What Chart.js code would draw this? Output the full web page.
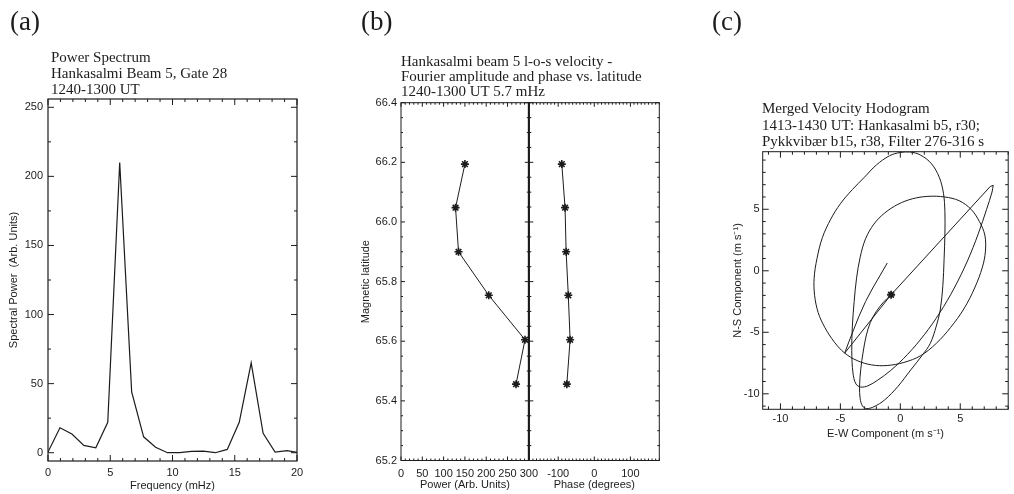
<!DOCTYPE html>
<html>
<head>
<meta charset="utf-8">
<script src="https://cdn.jsdelivr.net/npm/chart.js@4.4.1/dist/chart.umd.min.js"></script>
<style>
  html, body { margin: 0; padding: 0; background: #fff; }
  #page { position: relative; width: 1014px; height: 494px; overflow: hidden; }
  canvas { position: absolute; top: 0; }
  .lbl { position: absolute; font-family: "Liberation Serif", "Times New Roman", serif; color: #1c1c1c; white-space: nowrap; }
  .panel { font-size: 27px; line-height: 27px; }
  .ttl { font-size: 15px; }
</style>
</head>
<body>
<div id="page">
  <canvas id="chartA" width="320" height="494" style="left:0"></canvas>
  <canvas id="chartB1" width="205" height="494" style="left:340px"></canvas>
  <canvas id="chartB2" width="150" height="494" style="left:520px"></canvas>
  <canvas id="chartC" width="334" height="494" style="left:680px"></canvas>

  <div class="lbl panel" style="left:10px;top:8px">(a)</div>
  <div class="lbl panel" style="left:361px;top:8px">(b)</div>
  <div class="lbl panel" style="left:712px;top:8px">(c)</div>

  <div class="lbl ttl" style="left:51px;top:48.5px;line-height:16.3px">Power Spectrum<br>Hankasalmi Beam 5, Gate 28<br>1240-1300 UT</div>
  <div class="lbl ttl" style="left:401px;top:54px;line-height:15px">Hankasalmi beam 5 l-o-s velocity -<br>Fourier amplitude and phase vs. latitude<br>1240-1300 UT 5.7 mHz</div>
  <div class="lbl ttl" style="left:762px;top:100px;line-height:16.5px">Merged Velocity Hodogram<br>1413-1430 UT: Hankasalmi b5, r30;<br>Pykkvibær b15, r38, Filter 276-316 s</div>
</div>
<script>
// ---- (a) power spectrum ----
var freqMHz = [0, 0.96, 1.92, 2.88, 3.84, 4.8, 5.76, 6.72, 7.68, 8.64, 9.6, 10.56,
               11.52, 12.48, 13.44, 14.4, 15.36, 16.32, 17.28, 18.24, 19.2, 20.16];
var spectralPower = [0.5, 18, 13.5, 5.3, 3.6, 22, 210, 44, 11.5, 4, 0, 0,
                     1, 1.2, 0, 2.4, 22, 65, 14, 0.5, 1.5, 0];
var freqTicks = [0, 5, 10, 15, 20];
var powerTicksA = [0, 50, 100, 150, 200, 250];

// ---- (b) amplitude and phase vs latitude ----
var latitude = [66.194, 66.048, 65.90, 65.754, 65.605, 65.456];
var amplitude = [150, 128, 135, 206, 291, 270];
var phaseDeg = [-90, -81, -78, -72, -67, -76];
var latTicks = [65.2, 65.4, 65.6, 65.8, 66.0, 66.2, 66.4];
var ampTicks = [0, 50, 100, 150, 200, 250, 300];
var phaseTicks = [-100, 0, 100];

// ---- (c) hodogram (E-W, N-S in m/s), traced from the start star ----
var hodoEW = [-0.77, -1.4, -2.0, -2.5, -2.85, -3.1, -3.3, -3.4, -3.35, -3.15, -2.8, -2.2,
              -1.31, -0.2, 0.87, 1.8, 2.5, 3.0, 3.33, 3.55, 3.65, 3.72, 3.72, 3.6,
              3.25, 2.6, 1.7, 0.8, 0.0, -0.9, -2.0, -3.0, -4.0, -5.0, -5.8, -6.5,
              -6.95, -7.19, -7.15, -6.85, -6.3, -5.5, -4.64, -3.6, -2.4, -1.1, 0.3, 1.7,
              3.0, 4.2, 5.3, 6.2, 6.85, 7.1, 7.05, 6.6, 5.9, 4.9, 3.7, 2.3,
              1.0, -0.2, -1.3, -2.2, -2.9, -3.35, -3.65, -3.85, -4.0, -4.05, -3.95, -3.7,
              -3.3, -2.7, -1.9, -0.8, 0.6, 2.0, 3.3, 4.5, 5.6, 6.5, 7.2, 7.65, 7.75];
var hodoNS = [-1.95, -2.55, -3.3, -4.2, -5.3, -6.6, -8.0, -9.4, -10.4, -11.0, -11.2, -11.05,
              -10.5, -9.4, -8.06, -6.9, -5.9, -4.5, -3.19, -1.2, 0.9, 3.0, 4.8, 6.3,
              7.6, 8.7, 9.4, 9.66, 9.62, 9.35, 8.6, 7.6, 6.6, 5.45, 4.2, 2.7,
              1.0, -0.6, -2.0, -3.4, -4.6, -5.8, -6.69, -7.3, -7.65, -7.7, -7.45, -6.9,
              -5.9, -4.6, -3.1, -1.4, 0.3, 1.6, 2.9, 4.0, 5.0, 5.7, 6.0, 6.05,
              5.85, 5.4, 4.7, 3.8, 2.6, 1.1, -0.6, -2.5, -4.5, -6.5, -8.3, -9.2,
              -9.45, -9.35, -8.9, -8.1, -6.8, -5.2, -3.4, -1.4, 0.8, 3.0, 5.0, 6.4, 6.95];
// last stretch: tip -> back through the star -> cusp -> free end
var tailEW = [7.75, 7.5, -0.77, -4.64, -4.3, -3.9, -3.45, -2.9, -2.3, -1.7, -1.09];
var tailNS = [6.95, 6.85, -1.95, -6.69, -5.8, -4.8, -3.7, -2.5, -1.4, -0.4, 0.63];
var startEW = [-0.77];
var startNS = [-1.95];
var ewTicks = [-10, -5, 0, 5];
var nsTicks = [-10, -5, 0, 5];

var INK = '#1c1c1c';
Chart.defaults.font.family = '"Liberation Sans", Arial, Helvetica, sans-serif';
Chart.defaults.font.size = 11;
Chart.defaults.color = INK;

function pts(xs, ys) { return xs.map(function (x, i) { return { x: x, y: ys[i] }; }); }
function fixWidth(w) { return function (s) { s.width = w; }; }
function fixHeight(h) { return function (s) { s.height = h; }; }
function setTicks(vals) { return function (s) { s.ticks = vals.map(function (v) { return { value: v }; }); }; }

function steps(min, max, step) {
  var out = [], k0 = Math.ceil(min / step - 1e-9), k1 = Math.floor(max / step + 1e-9);
  for (var k = k0; k <= k1; k++) out.push(k * step);
  return out;
}
function isMajor(v, step) { var r = v / step; return Math.abs(r - Math.round(r)) < 1e-6; }

// inward tick marks on all four sides + box frame
var frameTicks = {
  id: 'frameTicks',
  afterDatasetsDraw: function (chart, args, o) {
    var ctx = chart.ctx, a = chart.chartArea;
    var sx = chart.scales.x, sy = chart.scales.y;
    ctx.save();
    ctx.strokeStyle = INK;
    ctx.lineWidth = 1;
    ctx.beginPath();
    steps(sx.min, sx.max, o.xMinor).forEach(function (v) {
      var p = sx.getPixelForValue(v), len = isMajor(v, o.xMajor) ? o.major : o.minor;
      ctx.moveTo(p, a.bottom); ctx.lineTo(p, a.bottom - len);
      ctx.moveTo(p, a.top); ctx.lineTo(p, a.top + len);
    });
    steps(sy.min, sy.max, o.yMinor).forEach(function (v) {
      var p = sy.getPixelForValue(v), len = isMajor(v, o.yMajor) ? o.major : o.minor;
      ctx.moveTo(a.left, p); ctx.lineTo(a.left + len, p);
      ctx.moveTo(a.right, p); ctx.lineTo(a.right - len, p);
    });
    ctx.stroke();
    ctx.lineWidth = o.frame || 1;
    ctx.strokeRect(a.left, a.top, a.right - a.left, a.bottom - a.top);
    if (o.rightWidth) {
      ctx.lineWidth = o.rightWidth;
      ctx.beginPath(); ctx.moveTo(a.right, a.top); ctx.lineTo(a.right, a.bottom); ctx.stroke();
    }
    ctx.restore();
  }
};

function baseOptions(padding, ticksOpt) {
  return {
    responsive: false, animation: false, events: [],
    layout: { padding: padding },
    plugins: { legend: { display: false }, tooltip: { enabled: false }, frameTicks: ticksOpt },
    scales: {}
  };
}
function axis(min, max, tickVals, size, isX, extra) {
  var ax = {
    type: 'linear', min: min, max: max,
    grid: { display: false, drawTicks: false },
    border: { display: false },
    afterBuildTicks: setTicks(tickVals),
    afterFit: isX ? fixHeight(size) : fixWidth(size),
    ticks: { padding: 5, maxRotation: 0, autoSkip: false }
  };
  for (var k in extra) ax[k] = extra[k];
  return ax;
}

// (a)
var optA = baseOptions({ top: 99, right: 23, left: 0, bottom: 0 },
  { xMinor: 1, xMajor: 5, yMinor: 25, yMajor: 50, major: 6, minor: 3, frame: 1.2 });
optA.scales.x = axis(0, 20, freqTicks, 33, true, {
  title: { display: true, text: 'Frequency (mHz)', padding: { top: 0, bottom: 1 } } });
optA.scales.y = axis(-6, 256, powerTicksA, 48, false, {
  title: { display: true, text: 'Spectral Power  (Arb. Units)', padding: { top: 7, bottom: 0 } } });
new Chart(document.getElementById('chartA'), {
  type: 'scatter',
  data: { datasets: [{ data: pts(freqMHz, spectralPower), showLine: true, borderColor: INK,
                       borderWidth: 1.2, pointRadius: 0, tension: 0 }] },
  options: optA,
  plugins: [frameTicks]
});

// (b) left: amplitude
var optB1 = baseOptions({ top: 102.7, right: 15.7, left: 0, bottom: 0 },
  { xMinor: 10, xMajor: 50, yMinor: 0.05, yMajor: 0.2, major: 4, minor: 2, rightWidth: 2 });
optB1.scales.x = axis(0, 300, ampTicks, 33.5, true, {
  ticks: { padding: 7, maxRotation: 0, autoSkip: false },
  title: { display: true, text: 'Power (Arb. Units)', padding: { top: 0, bottom: 2.4 } } });
optB1.scales.y = axis(65.2, 66.4, latTicks, 61, false, {
  ticks: { padding: 4, callback: function (v) { return v.toFixed(1); } },
  title: { display: true, text: 'Magnetic latitude', padding: { top: 19.4, bottom: 0 } } });
var markerSet = { showLine: true, borderColor: INK, borderWidth: 1, pointStyle: 'star',
                  pointRadius: 4, pointBorderWidth: 1.6, pointBorderColor: INK, tension: 0 };
new Chart(document.getElementById('chartB1'), {
  type: 'scatter',
  data: { datasets: [Object.assign({ data: pts(amplitude, latitude) }, markerSet)] },
  options: optB1,
  plugins: [frameTicks]
});

// (b) right: phase
var optB2 = baseOptions({ top: 102.7, right: 10.7, left: 9.3, bottom: 0 },
  { xMinor: 10, xMajor: 100, yMinor: 0.05, yMajor: 0.2, major: 4, minor: 2 });
optB2.scales.x = axis(-180, 180, phaseTicks, 33.5, true, {
  ticks: { padding: 7, maxRotation: 0, autoSkip: false },
  title: { display: true, text: 'Phase (degrees)', padding: { top: 0, bottom: 2.4 } } });
optB2.scales.y = axis(65.2, 66.4, latTicks, 0, false, { display: false });
new Chart(document.getElementById('chartB2'), {
  type: 'scatter',
  data: { datasets: [Object.assign({ data: pts(phaseDeg, latitude) }, markerSet)] },
  options: optB2,
  plugins: [frameTicks]
});

// (c) hodogram
var optC = baseOptions({ top: 151.7, right: 2, left: 40, bottom: 50 },
  { xMinor: 1, xMajor: 5, yMinor: 1, yMajor: 5, major: 6, minor: 3 });
optC.scales.x = axis(-11.48, 9.0, ewTicks, 34.7, true, {
  ticks: { padding: 3.4, maxRotation: 0, autoSkip: false },
  title: { display: true, text: 'E-W Component (m s\u207B\u00B9)', padding: { top: 0, bottom: 3.4 } } });
optC.scales.y = axis(-11.26, 9.68, nsTicks, 42.7, false, {
  ticks: { padding: 3 },
  title: { display: true, text: 'N-S Component (m s\u207B\u00B9)', padding: { top: 11.7, bottom: 0 } } });
new Chart(document.getElementById('chartC'), {
  type: 'scatter',
  data: { datasets: [
    { data: pts(hodoEW, hodoNS), showLine: true, borderColor: INK, borderWidth: 1, pointRadius: 0, tension: 0.35 },
    { data: pts(tailEW, tailNS), showLine: true, borderColor: INK, borderWidth: 1, pointRadius: 0, tension: 0 },
    { data: pts(startEW, startNS), showLine: false, pointStyle: 'star', pointRadius: 4,
      pointBorderWidth: 1.8, pointBorderColor: INK }
  ] },
  options: optC,
  plugins: [frameTicks]
});
</script>
</body>
</html>
